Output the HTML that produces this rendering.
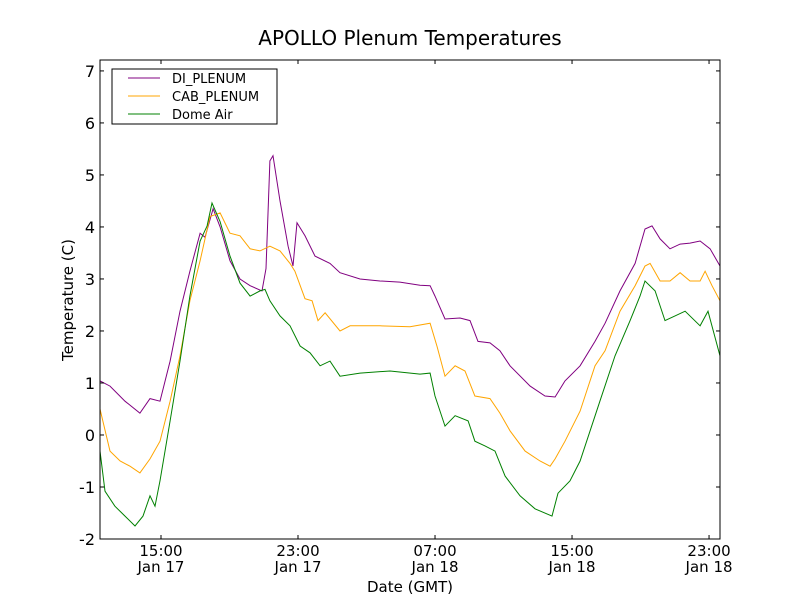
<!DOCTYPE html>
<html><head><meta charset="utf-8"><style>
body{margin:0;background:#fff;}
svg{display:block;font-family:"DejaVu Sans","Liberation Sans",sans-serif;}
</style></head><body>
<svg id="chart" width="800" height="600" viewBox="0 0 800 600">
<rect x="0" y="0" width="800" height="600" fill="#fff"/>
<text x="410" y="45" font-size="20" text-anchor="middle">APOLLO Plenum Temperatures</text>
<g id="plot"></g>
<rect x="100" y="60" width="620" height="479" fill="none" stroke="#000" stroke-width="1"/>
<g id="axes"></g>
<text x="410" y="592" font-size="15" text-anchor="middle">Date (GMT)</text>
<text transform="translate(73,300) rotate(-90)" font-size="15" text-anchor="middle">Temperature (C)</text>
<g>
<rect x="112" y="69" width="165" height="55" fill="#fff" stroke="#000" stroke-width="1"/>
<line x1="128" y1="78" x2="160" y2="78" stroke="purple"/>
<text x="172" y="83" font-size="13">DI_PLENUM</text>
<line x1="128" y1="96" x2="160" y2="96" stroke="orange"/>
<text x="172" y="101" font-size="13">CAB_PLENUM</text>
<line x1="128" y1="114" x2="160" y2="114" stroke="green"/>
<text x="172" y="119" font-size="13">Dome Air</text>
</g>
</svg>
<script>
// hours since Jan 17 00:00 GMT
const diTimes=[11.44,12.02,12.90,13.77,14.36,14.94,15.53,16.11,16.69,17.28,17.57,18.04,18.45,19.03,19.61,20.20,20.90,21.13,21.36,21.54,21.95,22.42,22.71,22.94,23.41,23.99,24.87,25.45,26.62,27.79,28.95,30.12,30.71,31.00,31.58,32.46,33.04,33.51,34.21,34.79,35.38,36.55,37.42,38.01,38.59,39.47,40.34,40.93,41.80,42.68,43.26,43.67,44.14,44.72,45.31,45.89,46.48,47.06,47.64];
const diValues=[1.04,0.94,0.65,0.42,0.7,0.65,1.42,2.38,3.15,3.88,3.8,4.35,4.0,3.35,3.0,2.87,2.77,3.2,5.27,5.37,4.5,3.63,3.25,4.08,3.83,3.44,3.3,3.12,3.0,2.96,2.94,2.88,2.87,2.67,2.23,2.25,2.2,1.8,1.77,1.62,1.33,0.94,0.75,0.73,1.04,1.33,1.8,2.15,2.77,3.3,3.96,4.02,3.77,3.58,3.67,3.69,3.73,3.58,3.25];
const cabTimes=[11.44,12.02,12.61,13.19,13.77,14.36,14.94,15.53,16.11,16.69,17.28,17.86,18.45,19.03,19.61,20.20,20.78,21.36,21.95,22.53,22.82,23.41,23.82,24.17,24.58,25.45,26.04,27.79,29.54,30.71,31.12,31.58,32.17,32.75,33.33,34.21,34.79,35.38,36.26,37.13,37.72,38.01,38.59,39.47,40.34,40.93,41.80,42.68,43.26,43.56,44.14,44.72,45.31,45.89,46.48,46.77,47.17,47.64];
const cabValues=[0.5,-0.31,-0.5,-0.6,-0.73,-0.46,-0.12,0.65,1.52,2.58,3.35,4.2,4.27,3.88,3.83,3.58,3.54,3.63,3.54,3.3,3.15,2.62,2.58,2.2,2.35,2.0,2.1,2.1,2.08,2.15,1.7,1.13,1.33,1.23,0.75,0.7,0.42,0.08,-0.31,-0.5,-0.6,-0.46,-0.12,0.46,1.33,1.62,2.38,2.87,3.25,3.3,2.96,2.96,3.12,2.96,2.96,3.15,2.87,2.58];
const domeTimes=[11.44,11.73,12.31,12.90,13.48,13.95,14.36,14.65,14.94,15.53,16.11,16.69,17.28,17.69,17.98,18.45,19.03,19.61,20.20,20.78,21.07,21.36,21.95,22.53,23.12,23.70,24.29,24.87,25.45,26.62,28.37,30.12,30.71,31.00,31.58,32.17,32.93,33.33,33.92,34.50,35.09,35.96,36.84,37.83,38.18,38.88,39.47,40.63,41.51,42.39,42.97,43.26,43.85,44.43,45.01,45.60,46.48,46.94,47.64];
const domeValues=[-0.31,-1.08,-1.37,-1.56,-1.75,-1.56,-1.17,-1.37,-0.88,0.27,1.42,2.67,3.73,4.02,4.46,4.1,3.44,2.92,2.67,2.77,2.8,2.58,2.29,2.1,1.71,1.58,1.33,1.42,1.13,1.19,1.23,1.17,1.19,0.75,0.17,0.37,0.27,-0.12,-0.21,-0.31,-0.79,-1.17,-1.42,-1.56,-1.12,-0.88,-0.5,0.65,1.52,2.2,2.67,2.96,2.77,2.2,2.29,2.38,2.1,2.38,1.52];
const xTickHours=[15,23,31,39,47];
const xTickTimes=["15:00","23:00","07:00","15:00","23:00"];
const xTickDates=["Jan 17","Jan 17","Jan 18","Jan 18","Jan 18"];
const yTicks=[-2,-1,0,1,2,3,4,5,6,7];

const NS="http://www.w3.org/2000/svg";
const X0=100,X1=720,Y0=539,Y1=60;
const hMin=11.438,hMax=47.64,vMin=-2,vMax=7.21;
function xs(h){return X0+(h-hMin)/(hMax-hMin)*(X1-X0);}
function ys(v){return Y0-(v-vMin)/(vMax-vMin)*(Y0-Y1);}
function mk(t,a,p){const e=document.createElementNS(NS,t);for(const k in a)e.setAttribute(k,a[k]);p.appendChild(e);return e;}
const plot=document.getElementById('plot'),axes=document.getElementById('axes');
function series(ts,vs,color,name){
  const d=ts.map((t,i)=>(i?'L':'M')+xs(t).toFixed(1)+','+ys(vs[i]).toFixed(1)).join('');
  const p=mk('path',{d:d,fill:'none',stroke:color,'stroke-width':1},plot);
  
  
}
series(diTimes,diValues,'purple','di-plenum-line');
series(cabTimes,cabValues,'orange','cab-plenum-line');
series(domeTimes,domeValues,'green','dome-air-line');
yTicks.forEach(v=>{
  const y=ys(v);
  const l1=mk('line',{x1:X0,y1:y,x2:X0+4,y2:y,stroke:'#000'},axes);
  
  
  const l2=mk('line',{x1:X1-4,y1:y,x2:X1,y2:y,stroke:'#000'},axes);
  
  
  const t=mk('text',{x:X0-5,y:y+6,'font-size':16,'text-anchor':'end'},axes);
  t.textContent=v;
  
  
});
xTickHours.forEach((h,i)=>{
  const x=xs(h);
  const l1=mk('line',{x1:x,y1:Y0,x2:x,y2:Y0-4,stroke:'#000'},axes);
  
  
  const l2=mk('line',{x1:x,y1:Y1,x2:x,y2:Y1+4,stroke:'#000'},axes);
  
  
  const t=mk('text',{x:x,y:556,'font-size':15,'text-anchor':'middle'},axes);
  t.textContent=xTickTimes[i];
  
  
  const t2=mk('text',{x:x,y:572,'font-size':15,'text-anchor':'middle'},axes);
  t2.textContent=xTickDates[i];
  
  
});
</script>
</body></html>
